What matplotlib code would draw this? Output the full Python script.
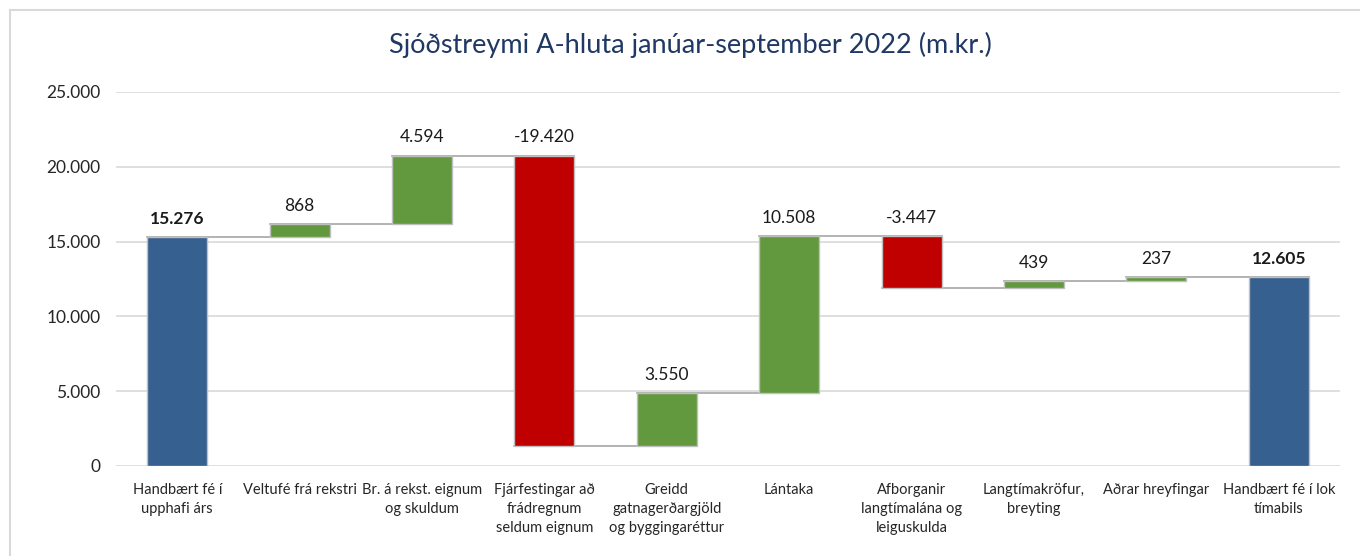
import matplotlib
matplotlib.use("Agg")
import matplotlib.pyplot as plt
from matplotlib.lines import Line2D
import numpy as np

categories = ["Handbært fé í\nupphafi árs", "Veltufé frá rekstri", "Br. á rekst. eignum\nog skuldum",
              "Fjárfestingar að\nfrádregnum\nseldum eignum", "Greidd\ngatnagerðargjöld\nog byggingaréttur",
              "Lántaka", "Afborganir\nlangtímalána og\nleiguskulda", "Langtímakröfur,\nbreyting",
              "Aðrar hreyfingar", "Handbært fé í lok\ntímabils"]
values = [15276, 868, 4594, -19420, 3550, 10508, -3447, 439, 237, 12605]
is_total = [True, False, False, False, False, False, False, False, False, True]
labels = ["15.276", "868", "4.594", "-19.420", "3.550", "10.508", "-3.447", "439", "237", "12.605"]
yticks = [0, 5000, 10000, 15000, 20000, 25000]
ytick_labels = ["0", "5.000", "10.000", "15.000", "20.000", "25.000"]

plt.rcParams['font.family'] = ['Lato', 'DejaVu Sans']

W, H = 1360, 556
fig = plt.figure(figsize=(W/100, H/100), dpi=100)
ax = fig.add_axes([116/W, 1-466/H, (1340-116)/W, (466-92)/H])

blue = "#35608F"
green = "#62993E"
red = "#C00000"

x = np.arange(len(values))
bottoms, heights, colors = [], [], []
running = 0
tops = []
for v, t in zip(values, is_total):
    if t:
        bottoms.append(0); heights.append(v); colors.append(blue)
        running = v
    else:
        if v >= 0:
            bottoms.append(running); heights.append(v); colors.append(green)
        else:
            bottoms.append(running + v); heights.append(-v); colors.append(red)
        running += v
    tops.append(running)

ax.bar(x, heights, bottom=bottoms, width=0.49, color=colors, edgecolor="#BFBFBF", linewidth=1, zorder=3)

# connectors
for i in range(len(values)-1):
    ax.plot([x[i]-0.245, x[i+1]+0.245], [tops[i], tops[i]], color="#A6A6A6", lw=1.2, zorder=2)

# labels
for i, (b, h) in enumerate(zip(bottoms, heights)):
    ax.text(x[i], b + h + 700, labels[i], ha="center", va="bottom", fontsize=12.5,
            fontweight="bold" if is_total[i] else "normal", color="#1a1a1a")

ax.set_xlim(-0.5, len(values)-0.5)
ax.set_ylim(0, 25000)
ax.set_yticks(yticks)
ax.set_yticklabels(ytick_labels, fontsize=12.5, color="#262626")
ax.set_xticks(x)
ax.set_xticklabels(categories, fontsize=10.5, color="#262626", linespacing=1.45)
ax.tick_params(axis="both", length=0)
ax.tick_params(axis="y", pad=11)
ax.tick_params(axis="x", pad=12)
ax.grid(axis="y", color="#D9D9D9", lw=1.2, zorder=0)
ax.set_axisbelow(True)
for s in ax.spines.values():
    s.set_visible(False)

fig.text(690/W, 1-45/H, "Sjóðstreymi A-hluta janúar-september 2022 (m.kr.)", ha="center", va="center",
         fontsize=19.5, color="#1F3864")

# figure border (top and left visible)
fig.add_artist(Line2D([9.5/W, 1], [1-9.5/H, 1-9.5/H], color="#D9D9D9", lw=1.5, transform=fig.transFigure))
fig.add_artist(Line2D([9.5/W, 9.5/W], [0, 1-9.5/H], color="#D9D9D9", lw=1.5, transform=fig.transFigure))

fig.savefig("out.png", dpi=100)
